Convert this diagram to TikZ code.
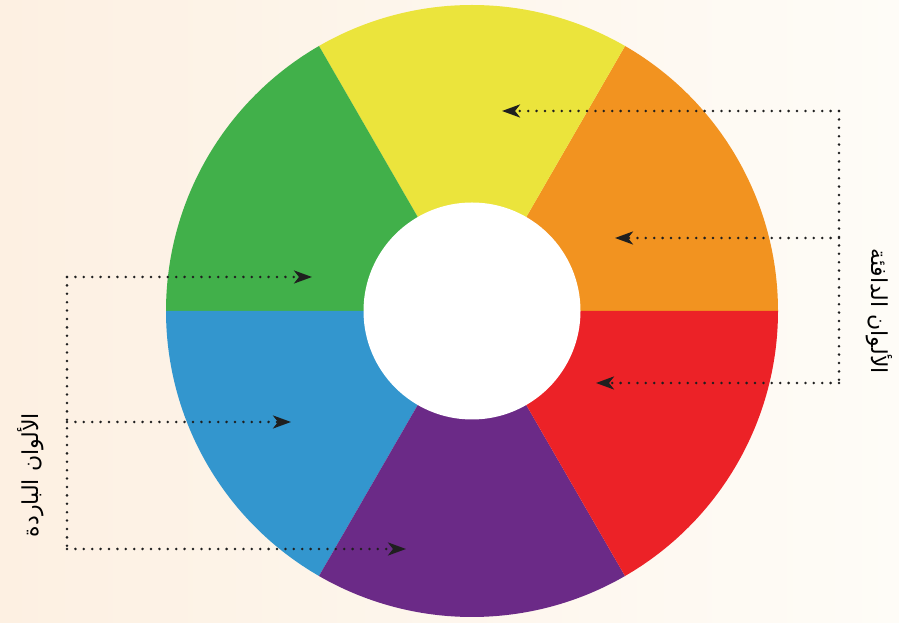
\documentclass[tikz,border=0pt]{standalone}
\usepackage{fontspec}
\newfontfamily\arabicfont[Script=Arabic]{DejaVu Sans}
\TeXXeTstate=1
\usetikzlibrary{arrows.meta}
\definecolor{bgL}{RGB}{253,240,226}
\definecolor{bgR}{RGB}{254,252,247}
\definecolor{cYellow}{RGB}{235,228,60}
\definecolor{cOrange}{RGB}{242,147,32}
\definecolor{cRed}{RGB}{236,34,39}
\definecolor{cPurple}{RGB}{107,42,135}
\definecolor{cBlue}{RGB}{51,150,206}
\definecolor{cGreen}{RGB}{65,176,74}
\tikzset{
  dotline/.style={line width=2.8pt, dash pattern=on 0pt off 8.4pt, line cap=round, draw=black!88},
  pointer/.style={dotline, -{Stealth[length=18pt,width=13pt,inset=5pt]}},
  lbl/.style={font=\arabicfont\fontsize{22}{26}\selectfont, inner sep=0pt}
}
\begin{document}
\begin{tikzpicture}[x=1pt,y=1pt]
\shade[left color=bgL, right color=bgR] (0,0) rectangle (899,623);
\useasboundingbox (0,0) rectangle (899,623);
\begin{scope}[shift={(472,312)}]
  \foreach \a/\c in {0/cOrange,60/cYellow,120/cGreen,180/cBlue,240/cPurple,300/cRed}{
    \fill[\c] (\a:306) arc[start angle=\a, end angle=\a+60, radius=306]
      -- ({\a+60}:108) arc[start angle=\a+60, end angle=\a, radius=108] -- cycle;
  }
  \fill[white] (0,0) circle[radius=108.5];
\end{scope}
% right side
\coordinate (rTop) at (839,512);
\coordinate (rMid) at (839,385);
\coordinate (rBot) at (839,240);
\coordinate (tYellow) at (502,512);
\coordinate (tOrange) at (615,385);
\coordinate (tRed) at (596,240);
\draw[dotline] (rTop) -- (rBot);
\draw[pointer] (rTop) -- (tYellow);
\draw[pointer] (rMid) -- (tOrange);
\draw[pointer] (rBot) -- (tRed);
% left side
\coordinate (lTop) at (67,346);
\coordinate (lMid) at (67,201);
\coordinate (lBot) at (67,74);
\coordinate (tGreen) at (312,346);
\coordinate (tBlue) at (291,201);
\coordinate (tPurple) at (406,74);
\draw[dotline] (lTop) -- (lBot);
\draw[pointer] (lTop) -- (tGreen);
\draw[pointer] (lMid) -- (tBlue);
\draw[pointer] (lBot) -- (tPurple);
% labels
\node[lbl, rotate=-90] (warm) at (879,312) {\beginR الألوان الدافئة\endR};
\node[lbl, rotate=90] (cool) at (31,148) {\beginR الألوان الباردة\endR};
\end{tikzpicture}
\end{document}
